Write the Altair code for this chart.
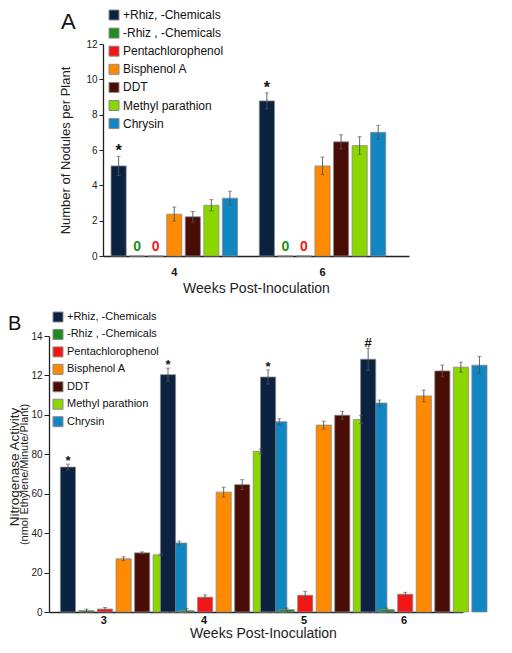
import altair as alt
import pandas as pd

# ---------------- data ----------------
series = ["+Rhiz, -Chemicals", "-Rhiz , -Chemicals", "Pentachlorophenol",
          "Bisphenol A", "DDT", "Methyl parathion", "Chrysin"]
colors = ["#0b2240", "#1e8c1e", "#f41616", "#ff8a00", "#4a0d06", "#8cd600", "#1086c2"]

weeks_a = ["4", "6"]
nod_w4 = [5.1, 0, 0, 2.37, 2.22, 2.87, 3.27]
nod_w4_err = [0.54, 0, 0, 0.4, 0.3, 0.32, 0.4]
nod_w4_mark = ["*", "", "", "", "", "", ""]
nod_w6 = [8.78, 0, 0, 5.1, 6.46, 6.25, 7.0]
nod_w6_err = [0.45, 0, 0, 0.5, 0.4, 0.5, 0.4]
nod_w6_mark = ["*", "", "", "", "", "", ""]

weeks_b = ["3", "4", "5", "6"]
nit_w3 = [73.5, 0.7, 1.5, 27.0, 30.0, 29.0, 35.0]
nit_w3_err = [1.5, 0.8, 0.8, 1.0, 0.5, 0.5, 1.0]
nit_w3_mark = ["*", "", "", "", "", "", ""]
nit_w4 = [120.4, 0.7, 7.5, 60.8, 64.6, 81.5, 96.5]
nit_w4_err = [3.3, 1.0, 1.2, 2.5, 2.5, 1.2, 1.5]
nit_w4_mark = ["*", "", "", "", "", "", ""]
nit_w5 = [119.2, 1.2, 8.5, 94.8, 99.8, 97.6, 106.0]
nit_w5_err = [3.6, 0.8, 2.0, 2.0, 2.0, 2.0, 1.5]
nit_w5_mark = ["*", "", "", "", "", "", ""]
nit_w6 = [128.2, 1.2, 9.0, 109.6, 122.3, 124.2, 125.2]
nit_w6_err = [5.6, 0.8, 1.0, 3.0, 3.0, 2.5, 4.5]
nit_w6_mark = ["#", "", "", "", "", "", ""]

y_ticks_b = [0, 20, 40, 60, 80, 100, 120, 140]
y_ticks_a = [0, 2, 4, 6, 8, 10, 12]

FONT = "Liberation Sans"


def build(weeks, vals, errs, marks):
    rows = []
    for w, vs, es, ms in zip(weeks, vals, errs, marks):
        for s, c, v, e, m in zip(series, colors, vs, es, ms):
            rows.append(dict(week=w, series=s, value=v, lo=v - e, hi=v + e,
                             err=e, mark=m, zero=("0" if v == 0 else ""), zcol=c))
    return pd.DataFrame(rows)


df_a = build(weeks_a, [nod_w4, nod_w6], [nod_w4_err, nod_w6_err], [nod_w4_mark, nod_w6_mark])
df_b = build(weeks_b, [nit_w3, nit_w4, nit_w5, nit_w6],
             [nit_w3_err, nit_w4_err, nit_w5_err, nit_w6_err],
             [nit_w3_mark, nit_w4_mark, nit_w5_mark, nit_w6_mark])
df_legend = pd.DataFrame({"series": series})
color_scale = alt.Scale(domain=series, range=colors)


def legend_layers(x0, y_first, y_last, font_size):
    ly = alt.Y("series:N", sort=series, axis=None,
               scale=alt.Scale(type="point", domain=series, range=[y_first, y_last], padding=0))
    sq = alt.Chart(df_legend).mark_square(size=100, stroke="#8a8a8a", strokeWidth=1,
                                          opacity=1).encode(
        x=alt.value(x0 + 5), y=ly, color=alt.Color("series:N", scale=color_scale, legend=None))
    tx = alt.Chart(df_legend).mark_text(font=FONT, fontSize=font_size, align="left",
                                        baseline="middle", color="#111111").encode(
        x=alt.value(x0 + 14), y=ly, text="series:N")
    return alt.layer(sq, tx)


def panel(df, weeks, width, height, xscale, off_pi, ydom, yaxis, xaxis, leg,
          star_size, star_dy, hash_dy, extra_layers):
    base = alt.Chart(df).encode(
        x=alt.X("week:N", sort=weeks, scale=xscale, axis=xaxis),
        xOffset=alt.XOffset("series:N", sort=series,
                            scale=alt.Scale(paddingInner=off_pi, paddingOuter=0)),
    )
    yscale = alt.Scale(domain=ydom, nice=False, zero=True)
    bars = base.mark_bar(stroke="#8a8a8a", strokeWidth=0.8).encode(
        y=alt.Y("value:Q", scale=yscale, axis=yaxis),
        color=alt.Color("series:N", scale=color_scale, legend=None),
    )
    eb = base.transform_filter("datum.err > 0")
    rule = eb.mark_rule(color="#555555", strokeWidth=0.9).encode(
        y=alt.Y("lo:Q", scale=yscale), y2="hi:Q")
    cap_hi = eb.mark_tick(color="#555555", thickness=0.9, size=4).encode(
        y=alt.Y("hi:Q", scale=yscale))
    cap_lo = eb.mark_tick(color="#555555", thickness=0.9, size=4).encode(
        y=alt.Y("lo:Q", scale=yscale))
    stars = base.transform_filter("datum.mark == '*'").mark_text(
        font=FONT, fontWeight="bold", fontSize=star_size, dy=star_dy,
        baseline="alphabetic", color="#111111").encode(
        y=alt.Y("hi:Q", scale=yscale), text="mark:N")
    hashes = base.transform_filter("datum.mark == '#'").mark_text(
        font=FONT, fontWeight="bold", fontSize=star_size, dy=hash_dy,
        baseline="alphabetic", color="#111111").encode(
        y=alt.Y("hi:Q", scale=yscale), text="mark:N")
    zeros = base.transform_filter("datum.zero == '0'").mark_text(
        font=FONT, fontWeight="bold", fontSize=14, dy=-9, baseline="middle").encode(
        y=alt.Y("value:Q", scale=yscale), text="zero:N",
        color=alt.Color("zcol:N", scale=None))
    data_layer = alt.layer(bars, rule, cap_hi, cap_lo, stars, hashes, zeros, *extra_layers)
    return alt.layer(data_layer, leg).resolve_scale(y="independent").properties(
        width=width, height=height)


# ---------------- panel A ----------------
WA, HA = 306, 212
xaxis_a = alt.Axis(title="Weeks Post-Inoculation", labelAngle=0, ticks=False,
                   labelFont=FONT, labelFontSize=11, labelFontWeight="bold",
                   labelColor="#111111", labelPadding=10, domainColor="#222222",
                   domainWidth=1.3, titleFont=FONT, titleFontSize=14,
                   titleFontWeight="normal", titleColor="#222222", titlePadding=4)
yaxis_a = alt.Axis(title="Number of Nodules per Plant", values=y_ticks_a, tickCount=20,
                   format="d", grid=False, labelOverlap=False, tickSize=4,
                   tickColor="#222222", domainColor="#222222", domainWidth=1.3,
                   labelFont=FONT, labelFontSize=10, labelColor="#222222", labelPadding=2,
                   titleFont=FONT, titleFontSize=13, titleFontWeight="normal",
                   titleColor="#222222", titlePadding=13)
letter_a = alt.Chart(pd.DataFrame({"t": ["A"]})).mark_text(
    font=FONT, fontSize=22, align="left", baseline="alphabetic", color="#111111").encode(
    x=alt.value(-42), y=alt.value(-15), text="t:N")
xscale_a = alt.Scale(paddingInner=0.147, paddingOuter=0.1055, align=0.257)
chart_a = panel(df_a, weeks_a, WA, HA, xscale_a, 0.183, [0, 12], yaxis_a, xaxis_a,
                legend_layers(6, -29, 79.6, 12), 16, 0, -1, [letter_a])

# ---------------- panel B ----------------
WB, HB = 414, 276
xaxis_b = alt.Axis(title="Weeks Post-Inoculation", labelAngle=0, ticks=False,
                   labelFont=FONT, labelFontSize=11, labelFontWeight="bold",
                   labelColor="#111111", labelPadding=2, domainColor="#222222",
                   domainWidth=1.3, titleFont=FONT, titleFontSize=14,
                   titleFontWeight="normal", titleColor="#222222", titlePadding=1,
                   titleX=214)
yaxis_b = alt.Axis(title="(nmol Ethylene/Minute/Plant)", values=y_ticks_b, tickCount=20,
                   grid=False, labelOverlap=False,
                   labelExpr="datum.value >= 100 ? toString(datum.value / 10) : toString(datum.value)",
                   tickSize=5, tickColor="#222222", domainColor="#222222", domainWidth=1.3,
                   labelFont=FONT, labelFontSize=10, labelColor="#222222", labelPadding=2,
                   titleFont=FONT, titleFontSize=11, titleFontWeight="normal",
                   titleColor="#222222", titlePadding=1)
letter_b = alt.Chart(pd.DataFrame({"t": ["B"]})).mark_text(
    font=FONT, fontSize=20, align="left", baseline="alphabetic", color="#111111").encode(
    x=alt.value(-41), y=alt.value(-6), text="t:N")
ytitle_b = alt.Chart(pd.DataFrame({"t": ["Nitrogenase Activity"]})).mark_text(
    font=FONT, fontSize=13.5, angle=270, align="center", baseline="middle",
    color="#222222").encode(x=alt.value(-34), y=alt.value(131), text="t:N")
xscale_b = alt.Scale(paddingInner=0.13, paddingOuter=0.1336, align=0.425)
chart_b = panel(df_b, weeks_b, WB, HB, xscale_b, 0.14, [0, 140], yaxis_b, xaxis_b,
                legend_layers(4, -19, 85.7, 11), 13, 1, -1, [letter_b, ytitle_b])

chart = alt.vconcat(chart_a, chart_b, spacing=80, bounds="flush", center=True).properties(
    padding=0).configure_view(stroke=None)

chart.save("out.html", embed_options={"renderer": "svg", "actions": False})
